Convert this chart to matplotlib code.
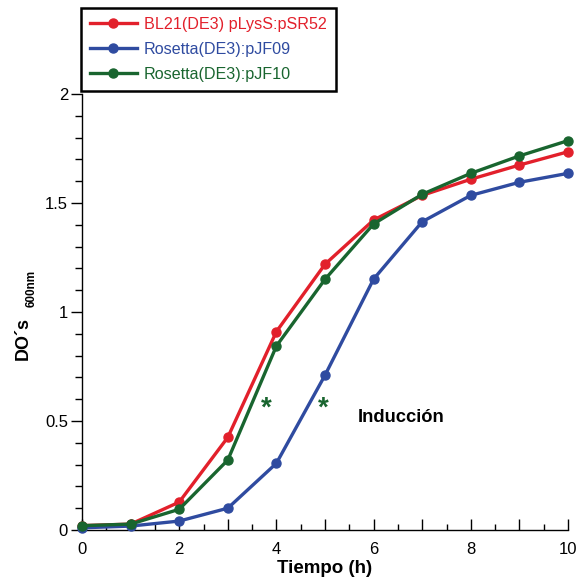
import matplotlib
matplotlib.use("Agg")
import matplotlib.pyplot as plt
from matplotlib.ticker import MultipleLocator

plt.rcParams['font.family'] = ['Liberation Sans', 'DejaVu Sans']

# Growth curves (optical density at 600 nm vs time)
hours = [0, 1, 2, 3, 4, 5, 6, 7, 8, 9, 10]
od_pSR52 = [0.02, 0.027, 0.128, 0.425, 0.91, 1.219, 1.422, 1.535, 1.609, 1.674, 1.735]
od_pJF09 = [0.01, 0.018, 0.041, 0.10, 0.306, 0.71, 1.151, 1.414, 1.535, 1.595, 1.636]
od_pJF10 = [0.02, 0.027, 0.095, 0.321, 0.844, 1.15, 1.404, 1.54, 1.636, 1.716, 1.786]

labels = ["BL21(DE3) pLysS:pSR52", "Rosetta(DE3):pJF09", "Rosetta(DE3):pJF10"]
colors = ["#e2202b", "#2f4ba0", "#19652f"]

# Induction time markers
induction_x = [3.79, 4.96]
induction_y = [0.555, 0.555]

fig = plt.figure(figsize=(5.81, 5.86), dpi=100)
ax = fig.add_axes([82 / 581, 56 / 586, 486 / 581, 436 / 586])

handles = []
for ys, c, lab in zip([od_pSR52, od_pJF09, od_pJF10], colors, labels):
    h, = ax.plot(hours, ys, color=c, lw=2.4, marker='o', ms=6.5,
                 solid_joinstyle='round', label=lab, clip_on=False, zorder=3)
    handles.append(h)

ax.set_xlim(0, 10)
ax.set_ylim(0, 2)

for s in ['top', 'right']:
    ax.spines[s].set_visible(False)
for s in ['left', 'bottom']:
    ax.spines[s].set_linewidth(1.0)

ax.xaxis.set_minor_locator(MultipleLocator(0.5))
ax.set_xticks([0, 1, 2, 3, 4, 5, 6, 7, 8, 9, 10])
ax.set_xticklabels(['0', '', '2', '', '4', '', '6', '', '8', '', '10'])
ax.yaxis.set_minor_locator(MultipleLocator(0.1))
ax.set_yticks([0, 0.5, 1, 1.5, 2])
ax.set_yticklabels(['0', '0.5', '1', '1.5', '2'])

ax.tick_params(axis='x', which='major', direction='in', length=8, width=1,
               labelsize=12, pad=9)
ax.tick_params(axis='x', which='minor', direction='in', length=4, width=1)
ax.tick_params(axis='y', which='major', direction='out', length=8, width=1,
               labelsize=12, pad=2)
ax.tick_params(axis='y', which='minor', direction='out', length=5, width=1)

ax.set_xlabel("Tiempo (h)", fontsize=13.5, fontweight='bold', labelpad=2)

# y label with subscript
fig.text(23 / 581, 1 - 338 / 586, "DO´s", rotation=90, fontsize=13,
         fontweight='bold', ha='center', va='center')
fig.text(32 / 581, 1 - 288 / 586, "600nm", rotation=90, fontsize=8.5,
         fontweight='bold', ha='center', va='center')

for xi, yi in zip(induction_x, induction_y):
    ax.text(xi, yi, "*", color=colors[2], fontsize=20, fontweight='bold',
            ha='center', va='center')
ax.text(5.68, 0.515, "Inducción", fontsize=13.2, fontweight='bold',
        ha='left', va='center')

leg = fig.legend(handles=handles, loc='upper left',
                 bbox_to_anchor=(81 / 581, 1 - 8 / 586),
                 frameon=True, fancybox=False, framealpha=1, fontsize=11.6,
                 handlelength=2.9, handletextpad=0.45, borderpad=0.55,
                 labelspacing=0.62, borderaxespad=0)
leg.get_frame().set_edgecolor('black')
leg.get_frame().set_linewidth(1.8)
for txt, c in zip(leg.get_texts(), colors):
    txt.set_color(c)

fig.savefig("out.png", dpi=100)
